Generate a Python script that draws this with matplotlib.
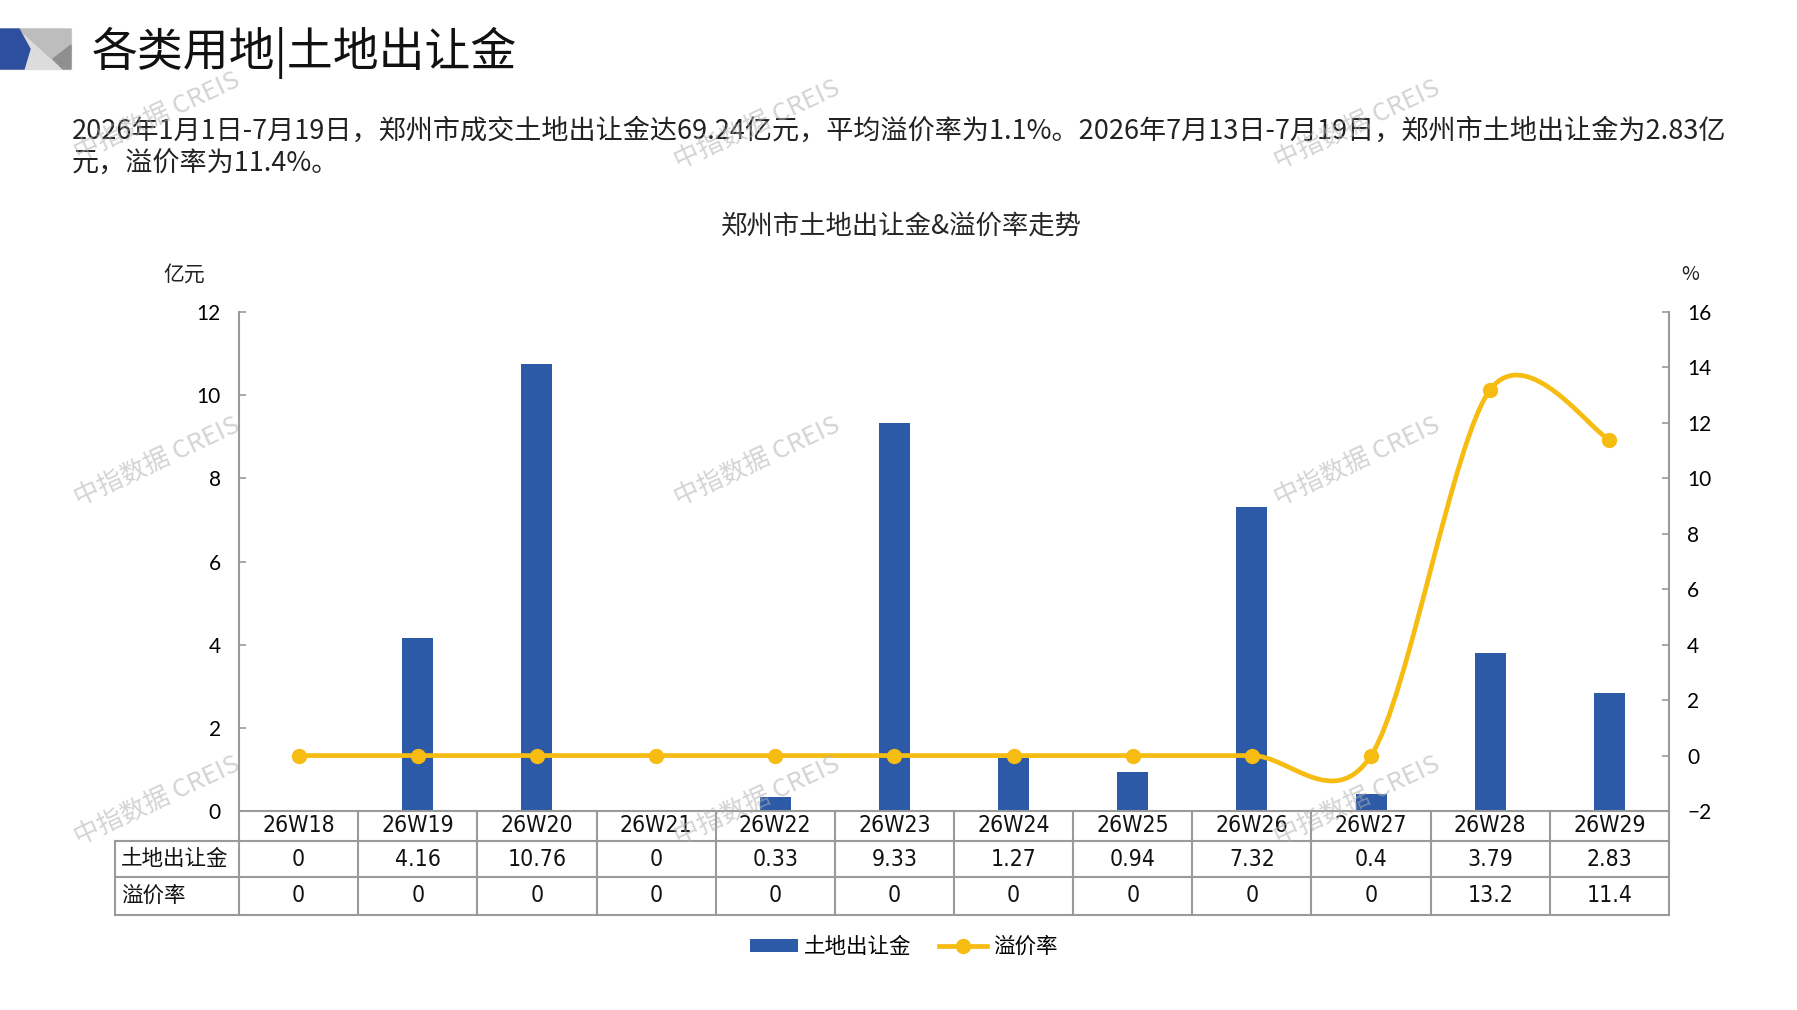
import matplotlib
matplotlib.use('Agg')
import matplotlib.pyplot as plt
from matplotlib.path import Path
from matplotlib.patches import PathPatch, Polygon, Patch
from matplotlib.lines import Line2D

plt.rcParams['font.family'] = ['Noto Sans CJK SC', 'DejaVu Sans']

# 数据
weeks = ['26W18', '26W19', '26W20', '26W21', '26W22', '26W23',
         '26W24', '26W25', '26W26', '26W27', '26W28', '26W29']
churangjin = [0, 4.16, 10.76, 0, 0.33, 9.33, 1.27, 0.94, 7.32, 0.4, 3.79, 2.83]
yijialv = [0, 0, 0, 0, 0, 0, 0, 0, 0, 0, 13.2, 11.4]

titulo = '各类用地|土地出让金'
texto1 = ('2026年1月1日-7月19日，郑州市成交土地出让金达69.24亿元，平均溢价率为1.1%。'
          '2026年7月13日-7月19日，郑州市土地出让金为2.83亿')
texto2 = '元，溢价率为11.4%。'
titulo_graf = '郑州市土地出让金&溢价率走势'

azul = '#2D5AA7'
amarillo = '#F6BC12'
gris = '#9a9a9a'
num_font = ['Lato', 'DejaVu Sans']
tab_font = ['DejaVu Sans']

W, H = 1797, 1010
fig = plt.figure(figsize=(W / 100, H / 100), dpi=100)

# ejes principales (pixeles -> fracciones)
x0, x1, y0, y1 = 239, 1669, 312, 811
ax = fig.add_axes([x0 / W, 1 - y1 / H, (x1 - x0) / W, (y1 - y0) / H])
ax2 = ax.twinx()

x = list(range(len(weeks)))
ax.bar(x, churangjin, width=0.26, color=azul, zorder=2)
ax.set_xlim(-0.5, len(weeks) - 0.5)
ax.set_ylim(0, 12)
ax.set_yticks(range(0, 13, 2))
ax.set_xticks([])
ax2.set_ylim(-2, 16)
ax2.set_yticks(range(-2, 17, 2))


# curva suavizada (tipo Excel)
def curva(xs, ys, k=1 / 6.4):
    pts = list(zip(xs, ys))
    verts = [pts[0]]
    codes = [Path.MOVETO]
    for i in range(len(pts) - 1):
        p0 = pts[i - 1] if i > 0 else pts[i]
        p1 = pts[i]
        p2 = pts[i + 1]
        p3 = pts[i + 2] if i + 2 < len(pts) else pts[i + 1]
        c1 = (p1[0] + (p2[0] - p0[0]) * k, p1[1] + (p2[1] - p0[1]) * k)
        c2 = (p2[0] - (p3[0] - p1[0]) * k, p2[1] - (p3[1] - p1[1]) * k)
        verts += [c1, c2, p2]
        codes += [Path.CURVE4] * 3
    return Path(verts, codes)


ax2.add_patch(PathPatch(curva(x, yijialv), fill=False, edgecolor=amarillo,
                        lw=3.4, capstyle='round', joinstyle='round', zorder=3))
ax2.plot(x, yijialv, 'o', color=amarillo, ms=10, zorder=4)

for a in (ax, ax2):
    for s in a.spines.values():
        s.set_color(gris)
        s.set_linewidth(1.5)
    a.spines['top'].set_visible(False)
    a.tick_params(axis='y', direction='in', length=5, width=1.2, color=gris,
                  labelsize=15, pad=13)
    for t in a.get_yticklabels():
        t.set_fontfamily(num_font)
ax.spines['right'].set_visible(False)
ax2.spines['left'].set_visible(False)
ax2.spines['bottom'].set_visible(False)

# tabla de datos
t_top, t_bot = 811, 915
tab = fig.add_axes([x0 / W, 1 - t_bot / H, (x1 - x0) / W, (t_bot - t_top) / H])
tab.set_xlim(-0.5, len(weeks) - 0.5)
tab.set_ylim(t_bot - t_top, 0)
tab.axis('off')
filas = [0, 30, 66, 104]
izq = -0.5 - 124 / ((x1 - x0) / len(weeks))
kw = dict(color=gris, lw=1.5, clip_on=False)
for i in range(len(weeks) + 1):
    tab.plot([i - 0.5, i - 0.5], [0, filas[-1]], **kw)
for f in filas[1:]:
    tab.plot([izq, len(weeks) - 0.5], [f, f], **kw)
tab.plot([izq, izq], [filas[1], filas[-1]], **kw)
tk = dict(ha='center', va='center', fontsize=16.5, family=tab_font,
          stretch='condensed', color='#111111')
for i, w in enumerate(weeks):
    tab.text(i, (filas[0] + filas[1]) / 2, w, **tk)
    tab.text(i, (filas[1] + filas[2]) / 2, f'{churangjin[i]:g}', **tk)
    tab.text(i, (filas[2] + filas[3]) / 2, f'{yijialv[i]:g}', **tk)
tab.text(izq + 0.05, (filas[1] + filas[2]) / 2, '土地出让金', ha='left',
         va='center', fontsize=15.5, color='#111111', clip_on=False)
tab.text(izq + 0.05, (filas[2] + filas[3]) / 2, '溢价率', ha='left',
         va='center', fontsize=15.5, color='#111111', clip_on=False)

# capa de decoracion
deco = fig.add_axes([0, 0, 1, 1], facecolor='none', zorder=10)
deco.set_xlim(0, W)
deco.set_ylim(H, 0)
deco.axis('off')

deco.add_patch(Polygon([(0, 29), (71, 29), (71, 69), (0, 69)], color='#dcdcdc'))
deco.add_patch(Polygon([(19, 29), (71, 29), (71, 50), (63, 69)], color='#bdbdbd'))
deco.add_patch(Polygon([(53, 59), (71, 45), (71, 69), (63, 69)], color='#8f8f8f'))
deco.add_patch(Polygon([(0, 29), (19, 29), (30, 49), (24, 69), (0, 69)], color='#2E4E9E'))

deco.text(92, 53, titulo, fontsize=33, va='center', ha='left', color='#111111')
deco.text(72, 131, texto1, fontsize=19.5, va='center', ha='left', color='#222222')
deco.text(72, 164, texto2, fontsize=19.5, va='center', ha='left', color='#222222')
deco.text(901, 226, titulo_graf, fontsize=19, va='center', ha='center', color='#262626')
deco.text(184, 275, '亿元', fontsize=15, va='center', ha='center', color='#222222')
deco.text(1690, 275, '%', fontsize=14, va='center', ha='center', color='#222222')

marcas = [(157, 118), (757, 126), (1357, 126), (157, 463), (757, 463),
          (1357, 463), (157, 802), (757, 802), (1357, 802)]
for mx, my in marcas:
    deco.text(mx, my, '中指数据 CREIS', fontsize=18.5, rotation=25, color='#b0b0b0',
              alpha=0.55, ha='center', va='center')

handles = [Patch(facecolor=azul, edgecolor='none'),
           Line2D([], [], color=amarillo, lw=3.4, marker='o', ms=10)]
fig.legend(handles, ['土地出让金', '溢价率'], loc='center', bbox_to_anchor=(904 / W, 1 - 947 / H),
           ncol=2, frameon=False, fontsize=15.5, handlelength=2.2, handleheight=0.6,
           columnspacing=1.3, handletextpad=0.3)

fig.savefig('out.png', dpi=100)
